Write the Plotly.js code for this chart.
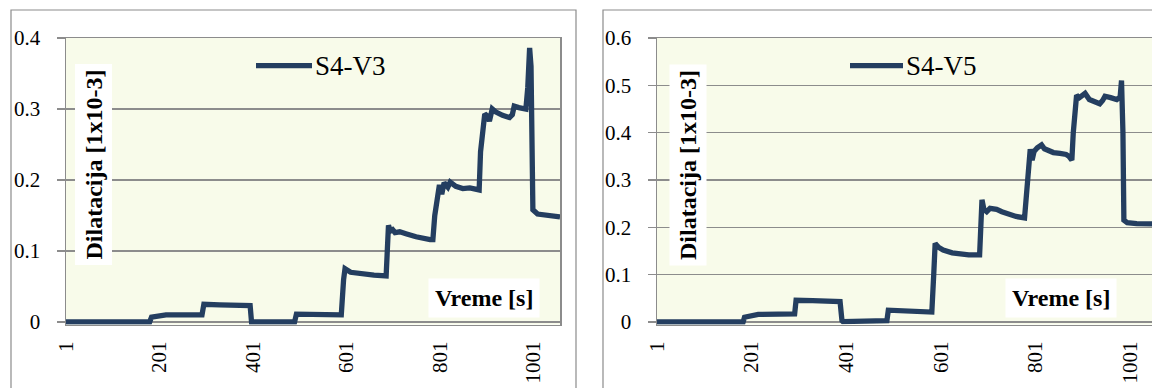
<!DOCTYPE html>
<html>
<head>
<meta charset="utf-8">
<script src="https://cdn.plot.ly/plotly-3.0.1.min.js"></script>
<style>
  html, body { margin: 0; padding: 0; width: 1152px; height: 388px; overflow: hidden; background: #fff; }
  #chart { width: 1160px; height: 388px; }
</style>
</head>
<body>
<div id="chart"></div>
<script>
// Strain measurements (x: time sample, y: strain in 1e-3)
const seriesNames = ['S4-V3', 'S4-V5'];

const timeV3 = [1, 180, 184, 200, 215, 292, 296, 330, 395, 398, 490, 494, 540, 590,
  595, 598, 610, 630, 660, 686, 689, 691, 695, 700, 705, 715, 730, 750, 780, 786,
  790, 796, 800, 805, 810, 818, 823, 835, 850, 865, 875, 885, 888, 893, 897, 903,
  907, 913, 920, 935, 950, 956, 960, 970, 985, 989, 993, 996, 998, 1000, 1010, 1030, 1058];
const strainV3 = [0, 0, 0.007, 0.008, 0.010, 0.010, 0.025, 0.024, 0.023, 0.000, 0.000, 0.011, 0.010, 0.010,
  0.060, 0.075, 0.070, 0.068, 0.066, 0.065, 0.095, 0.136, 0.128, 0.130, 0.126, 0.127, 0.124, 0.120, 0.116, 0.116,
  0.150, 0.172, 0.193, 0.180, 0.196, 0.190, 0.197, 0.191, 0.188, 0.189, 0.187, 0.186, 0.240, 0.280, 0.293, 0.290,
  0.283, 0.300, 0.296, 0.291, 0.288, 0.292, 0.304, 0.302, 0.300, 0.330, 0.386, 0.360, 0.200, 0.158, 0.152, 0.150, 0.148];

const timeV5 = [1, 183, 186, 200, 215, 292, 295, 330, 388, 392, 394, 440, 487, 490, 530, 582,
  586, 589, 596, 606, 625, 641, 660, 683, 686, 688, 692, 698, 705, 719, 730, 740, 760, 778,
  781, 786, 790, 794, 798, 805, 814, 820, 828, 839, 853, 866, 872, 878, 881, 885, 888, 894,
  899, 906, 915, 923, 937, 943, 948, 960, 973, 980, 983, 986, 988, 995, 1015, 1058];
const strainV5 = [0, 0, 0.010, 0.012, 0.016, 0.017, 0.046, 0.045, 0.043, 0.003, 0.001, 0.002, 0.003, 0.025, 0.023, 0.021,
  0.100, 0.166, 0.158, 0.152, 0.146, 0.143, 0.142, 0.142, 0.200, 0.258, 0.238, 0.233, 0.240, 0.238, 0.233, 0.229, 0.223, 0.220,
  0.260, 0.335, 0.365, 0.342, 0.360, 0.368, 0.374, 0.366, 0.362, 0.358, 0.356, 0.354, 0.350, 0.342, 0.400, 0.470, 0.479, 0.474,
  0.477, 0.483, 0.470, 0.466, 0.461, 0.468, 0.477, 0.474, 0.470, 0.475, 0.510, 0.400, 0.215, 0.210, 0.208, 0.207];

const xTicks = [1, 201, 401, 601, 801, 1001];
const xTitle = 'Vreme [s]';
const yTitle = 'Dilatacija [1x10-3]';

const W = 1160, H = 388;
const px = x => x / W;
const py = y => (H - y) / H;

const lineColor = '#243e60';
const gridColor = '#8c8c8c';
const serif = 'Liberation Serif';

// plot area: value 0 sits at y=322, top of scale at y=38; a little room is
// left below zero so the thick trace lying on zero is not clipped
const zeroY = 322, topY = 38, padPx = 2.5;

const traces = [
  { x: timeV3, y: strainV3, name: seriesNames[0], type: 'scatter', mode: 'lines',
    line: { color: lineColor, width: 5.3 }, xaxis: 'x', yaxis: 'y', showlegend: false },
  { x: timeV5, y: strainV5, name: seriesNames[1], type: 'scatter', mode: 'lines',
    line: { color: lineColor, width: 5.3 }, xaxis: 'x2', yaxis: 'y2', showlegend: false }
];

function xAxis(domain, anchor) {
  return {
    domain: domain, anchor: anchor, range: [1, 1058],
    tickmode: 'array', tickvals: xTicks, ticktext: xTicks.map(String),
    tickangle: -90, ticks: '', ticklabelstandoff: 7,
    showgrid: false, zeroline: false,
    showline: true, mirror: true, linecolor: gridColor, linewidth: 1.5,
    tickfont: { family: serif, size: 21, color: '#000' }
  };
}
function yAxis(domain, anchor, max) {
  const unitPx = (zeroY - topY) / max;
  return {
    domain: domain, anchor: anchor, range: [-padPx / unitPx, max], dtick: 0.1, tick0: 0,
    ticks: 'outside', ticklen: 8, tickcolor: gridColor, tickwidth: 1.5,
    ticklabelstandoff: 12,
    showgrid: true, gridcolor: gridColor, gridwidth: 1.5, zeroline: false,
    showline: true, mirror: true, linecolor: gridColor, linewidth: 1.5,
    tickfont: { family: serif, size: 21, color: '#000' }
  };
}

const yDom = [py(zeroY + padPx), py(topY)];
const panels = [
  { left: 66, right: 560, frame: [11, 576], legendLine: [256, 312], yTitleX: 93.5, xTitleX: 484 },
  { left: 657, right: 1157, frame: [603, 1240], legendLine: [850, 903], yTitleX: 688, xTitleX: 1060.5 }
];

const shapes = [];
const annotations = [];
panels.forEach((p, i) => {
  // outer chart frame
  shapes.push({ type: 'rect', xref: 'paper', yref: 'paper',
    x0: px(p.frame[0]), x1: px(p.frame[1]), y0: py(420), y1: py(10),
    line: { color: gridColor, width: 1.2 }, fillcolor: 'rgba(0,0,0,0)', layer: 'below' });
  // legend sample
  shapes.push({ type: 'line', xref: 'paper', yref: 'paper',
    x0: px(p.legendLine[0]), x1: px(p.legendLine[1]), y0: py(65.7), y1: py(65.7),
    line: { color: lineColor, width: 5.3 } });
  annotations.push({ xref: 'paper', yref: 'paper', x: px(p.legendLine[1] + 1), y: py(66),
    xanchor: 'left', yanchor: 'middle', showarrow: false, text: seriesNames[i],
    font: { family: serif, size: 27, color: '#000' } });
  // axis titles in white boxes inside the plot area
  annotations.push({ xref: 'paper', yref: 'paper', x: px(p.yTitleX), y: py(165),
    xanchor: 'center', yanchor: 'middle', showarrow: false, textangle: -90,
    text: '<b>' + yTitle + '</b>', bgcolor: '#ffffff', borderpad: 5,
    font: { family: serif, size: 24, color: '#000' } });
  annotations.push({ xref: 'paper', yref: 'paper', x: px(p.xTitleX), y: py(297.5),
    xanchor: 'center', yanchor: 'middle', showarrow: false,
    text: '<b>' + xTitle + '</b>', bgcolor: '#ffffff', borderpad: 6,
    font: { family: serif, size: 24, color: '#000' } });
});

const layout = {
  width: W, height: H,
  margin: { l: 0, r: 0, t: 0, b: 0 },
  paper_bgcolor: '#ffffff', plot_bgcolor: '#f8fbea',
  xaxis: xAxis([px(panels[0].left), px(panels[0].right)], 'y'),
  yaxis: yAxis(yDom, 'x', 0.4),
  xaxis2: xAxis([px(panels[1].left), px(panels[1].right)], 'y2'),
  yaxis2: yAxis(yDom, 'x2', 0.6),
  shapes: shapes,
  annotations: annotations,
  showlegend: false
};

Plotly.newPlot('chart', traces, layout, { displayModeBar: false, staticPlot: true });
</script>
</body>
</html>
